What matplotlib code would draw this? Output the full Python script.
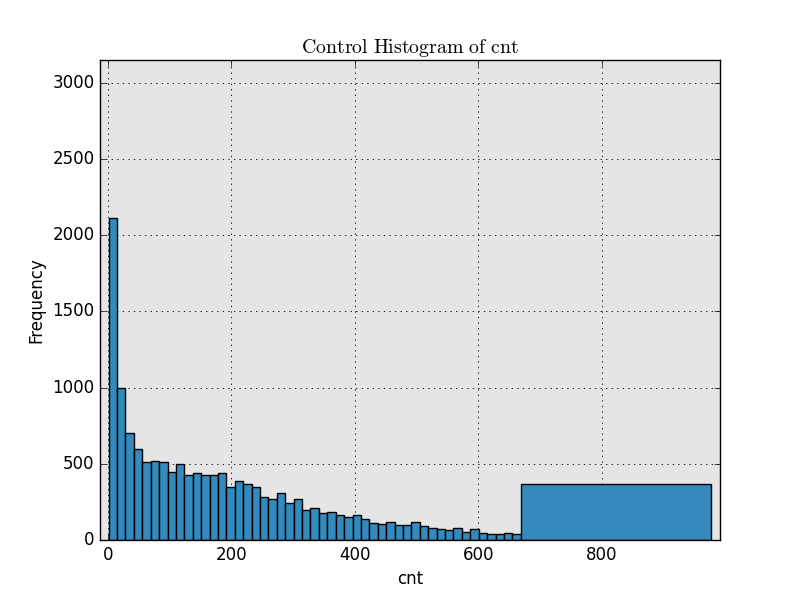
import numpy as np
import matplotlib
matplotlib.use("Agg")
import matplotlib.pyplot as plt

# ── Data ──────────────────────────────────────────────────────────────────────
# 49 equal-width bins from 1 to ~669, then one wide catch-all bin up to 977
narrow_edges = np.linspace(1, 669, 50)
wide_right = 977
counts = [2110, 996, 705, 599, 513, 520, 513, 447, 500, 427,
          440, 425, 425, 440, 350, 388, 368, 348, 282, 269,
          308, 242, 269, 198, 213, 176, 182, 163, 152, 163,
          136, 110, 103, 116, 97, 97, 116, 90, 77, 70,
          64, 77, 51, 70, 44, 37, 37, 44, 37,
          367]

edges = np.append(narrow_edges, wide_right)
centres = (edges[:-1] + edges[1:]) / 2

# ── Style ─────────────────────────────────────────────────────────────────────
plt.style.use("classic")
plt.rcParams.update({
    "axes.facecolor": "#E5E5E5",
    "figure.facecolor": "white",
})

fig = plt.figure(figsize=(8, 6), dpi=100)
ax = fig.add_subplot(111)

ax.hist(centres, bins=edges, weights=counts,
        color="#348ABD", edgecolor="black", linewidth=1.0, zorder=2)

ax.set_xlim(-13, 992)
ax.set_ylim(0, 3150)
ax.set_xticks([0, 200, 400, 600, 800])
ax.set_yticks(np.arange(0, 3001, 500))
ax.grid(True, color="black", linestyle=":", linewidth=0.6)
ax.set_axisbelow(True)

ax.set_title(r"$\mathrm{Control\ Histogram\ of\ cnt}$", fontsize=14.3)
ax.set_xlabel("cnt")
ax.set_ylabel("Frequency")

fig.savefig("out.png", facecolor="white")
